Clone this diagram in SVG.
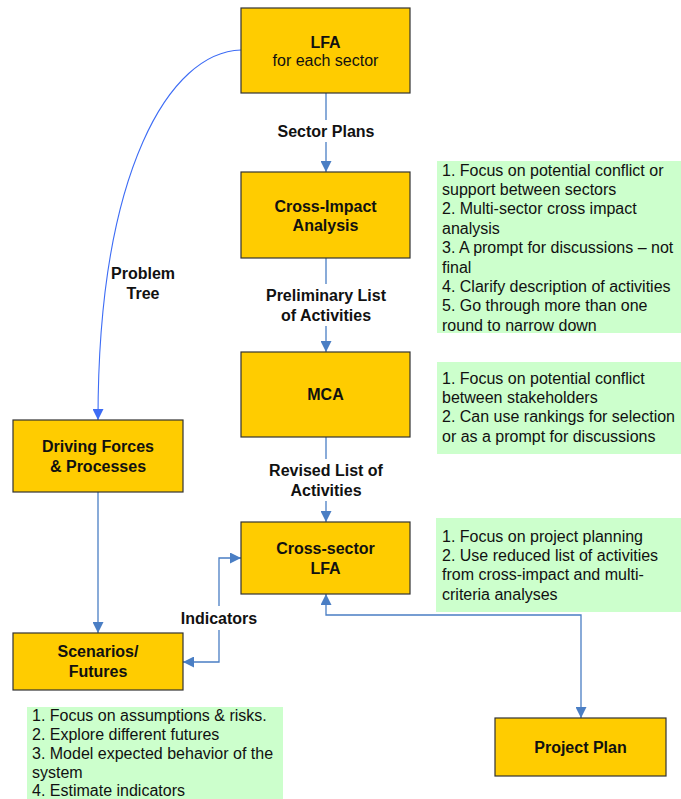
<svg xmlns="http://www.w3.org/2000/svg" width="681" height="799" viewBox="0 0 681 799">
  <defs>
    <marker id="arrow" viewBox="0 0 10 10" refX="10" refY="5" markerWidth="11" markerHeight="11" markerUnits="userSpaceOnUse" orient="auto-start-reverse">
      <path d="M0,0 L10,5 L0,10 z" fill="#4a7ec4"/>
    </marker>
    <marker id="arrowBright" viewBox="0 0 10 10" refX="10" refY="5" markerWidth="11" markerHeight="11" markerUnits="userSpaceOnUse" orient="auto">
      <path d="M0,0 L10,5 L0,10 z" fill="#3d6cf5"/>
    </marker>
  </defs>
  <style>
    .box { fill: #ffcc00; stroke: #333333; stroke-width: 1.2; }
    .note { fill: #ccffcc; stroke: none; }
    .title { font-family: "Liberation Sans", Arial, sans-serif; font-size: 16px; font-weight: bold; fill: #111; text-anchor: middle; }
    .sub { font-family: "Liberation Sans", Arial, sans-serif; font-size: 16px; fill: #111; text-anchor: middle; }
    .label { font-family: "Liberation Sans", Arial, sans-serif; font-size: 16px; font-weight: bold; fill: #111; text-anchor: middle; }
    .notetext { font-family: "Liberation Sans", Arial, sans-serif; font-size: 16px; fill: #111; }
    .conn { fill: none; stroke: #4a7ec4; stroke-width: 1.3; }
    .connBright { fill: none; stroke: #3d6cf5; stroke-width: 1.1; }
    .labelbg { fill: #ffffff; }
  </style>

  <!-- connectors -->
  <g id="connectors">
    <path class="conn" d="M326,93 L326,172" marker-end="url(#arrow)"/>
    <path class="conn" d="M326,258 L326,352" marker-end="url(#arrow)"/>
    <path class="conn" d="M326,437 L326,522" marker-end="url(#arrow)"/>
    <path class="connBright" d="M241,50 C170,52 98,170 98,420" marker-end="url(#arrowBright)"/>
    <path class="conn" d="M98,492 L98,633" marker-end="url(#arrow)"/>
    <path class="conn" d="M183,662 L219,662 L219,558 L241,558" marker-start="url(#arrow)" marker-end="url(#arrow)"/>
    <path class="conn" d="M326,594 L326,615 L581,615 L581,718" marker-start="url(#arrow)" marker-end="url(#arrow)"/>

    <rect class="labelbg" x="270" y="120" width="112" height="22"/>
    <text class="label" x="326" y="136.5">Sector Plans</text>

    <rect class="labelbg" x="260" y="284" width="132" height="42"/>
    <text class="label" x="326" y="301">Preliminary List</text>
    <text class="label" x="326" y="320.5">of Activities</text>

    <rect class="labelbg" x="262" y="459" width="128" height="42"/>
    <text class="label" x="326" y="476">Revised List of</text>
    <text class="label" x="326" y="495.5">Activities</text>

    <text class="label" x="143" y="279">Problem</text>
    <text class="label" x="143" y="299">Tree</text>

    <rect class="labelbg" x="176" y="606" width="86" height="24"/>
    <text class="label" x="219" y="623.5">Indicators</text>
  </g>

  <g id="lfa">
    <rect class="box" x="241" y="8" width="169" height="85"/>
    <text class="title" x="325.5" y="47.5">LFA</text>
    <text class="sub" x="325.5" y="65.5">for each sector</text>
  </g>

  <g id="cross-impact">
    <rect class="box" x="241" y="172" width="169" height="86"/>
    <text class="title" x="325.5" y="211.5">Cross-Impact</text>
    <text class="title" x="325.5" y="230.5">Analysis</text>
  </g>

  <g id="mca">
    <rect class="box" x="241" y="352" width="169" height="85"/>
    <text class="title" x="325.5" y="399.5">MCA</text>
  </g>

  <g id="cross-sector-lfa">
    <rect class="box" x="241" y="522" width="169" height="72"/>
    <text class="title" x="325.5" y="553.5">Cross-sector</text>
    <text class="title" x="325.5" y="573.5">LFA</text>
  </g>

  <g id="driving-forces">
    <rect class="box" x="13" y="420" width="170" height="72"/>
    <text class="title" x="98" y="451.5">Driving Forces</text>
    <text class="title" x="98" y="471.5">&amp; Processes</text>
  </g>

  <g id="scenarios">
    <rect class="box" x="13" y="633" width="170" height="57"/>
    <text class="title" x="98" y="656.5">Scenarios/</text>
    <text class="title" x="98" y="676.5">Futures</text>
  </g>

  <g id="project-plan">
    <rect class="box" x="495" y="718" width="171" height="58"/>
    <text class="title" x="580.5" y="752.5">Project Plan</text>
  </g>

  <g id="note-cross-impact">
    <rect class="note" x="437" y="161" width="244" height="172"/>
    <text class="notetext" x="442" y="175.5">1. Focus on potential conflict or</text>
    <text class="notetext" x="442" y="194.9">support between sectors</text>
    <text class="notetext" x="442" y="214.3">2. Multi-sector cross impact</text>
    <text class="notetext" x="442" y="233.7">analysis</text>
    <text class="notetext" x="442" y="253.1">3. A prompt for discussions – not</text>
    <text class="notetext" x="442" y="272.5">final</text>
    <text class="notetext" x="442" y="291.9">4. Clarify description of activities</text>
    <text class="notetext" x="442" y="311.3">5. Go through more than one</text>
    <text class="notetext" x="442" y="330.7">round to narrow down</text>
  </g>

  <g id="note-mca">
    <rect class="note" x="437" y="362" width="244" height="92"/>
    <text class="notetext" x="442" y="383.5">1. Focus on potential conflict</text>
    <text class="notetext" x="442" y="402.9">between stakeholders</text>
    <text class="notetext" x="442" y="422.3">2. Can use rankings for selection</text>
    <text class="notetext" x="442" y="441.7">or as a prompt for discussions</text>
  </g>

  <g id="note-cross-sector">
    <rect class="note" x="436" y="518" width="245" height="94"/>
    <text class="notetext" x="442" y="541.5">1. Focus on project planning</text>
    <text class="notetext" x="442" y="560.9">2. Use reduced list of activities</text>
    <text class="notetext" x="442" y="580.3">from cross-impact and multi-</text>
    <text class="notetext" x="442" y="599.7">criteria analyses</text>
  </g>

  <g id="note-scenarios">
    <rect class="note" x="27" y="707" width="256" height="92"/>
    <text class="notetext" x="32" y="720.5">1. Focus on assumptions &amp; risks.</text>
    <text class="notetext" x="32" y="739.5">2. Explore different futures</text>
    <text class="notetext" x="32" y="758.5">3. Model expected behavior of the</text>
    <text class="notetext" x="32" y="777.5">system</text>
    <text class="notetext" x="32" y="796">4. Estimate indicators</text>
  </g>
</svg>
